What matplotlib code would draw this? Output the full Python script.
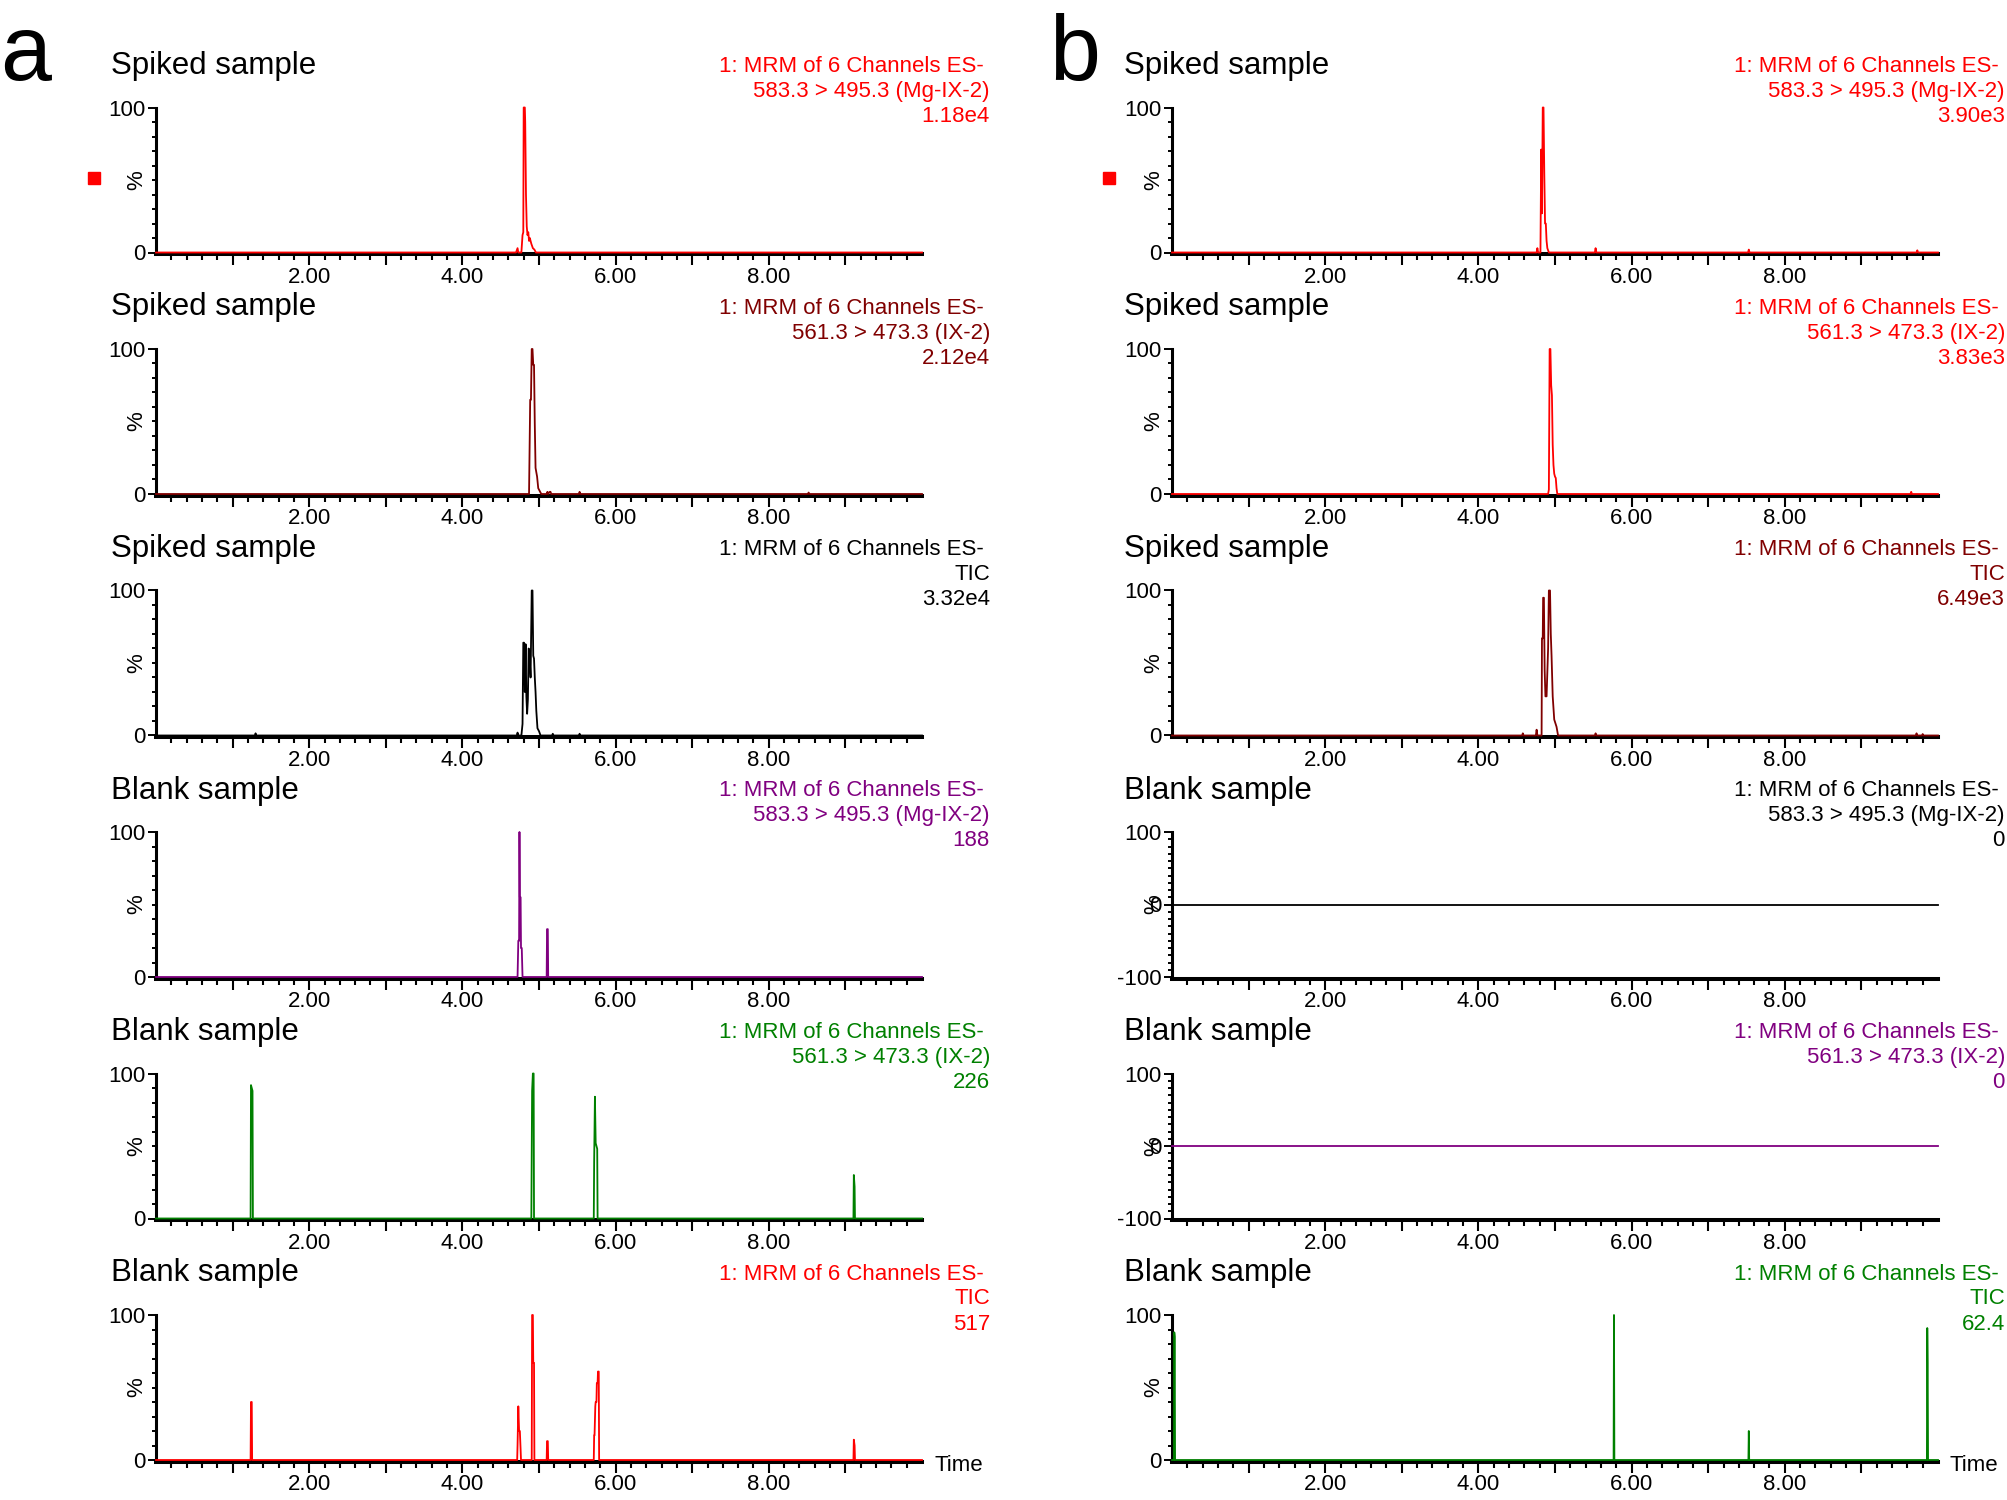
import numpy as np
import matplotlib
matplotlib.use("Agg")
import matplotlib.pyplot as plt
from matplotlib.patches import Rectangle
from matplotlib.ticker import MultipleLocator, FixedLocator

plt.rcParams['font.family'] = ['Liberation Sans', 'DejaVu Sans']
plt.rcParams['axes.unicode_minus'] = False

W, H = 2008, 1500

RED = '#ff0000'
MAROON = '#800000'
BLACK = '#000000'
PURPLE = '#800080'
GREEN = '#008000'

# ---- panel a traces: time (min), relative intensity (%) ----
a1_t = [0, 4.70, 4.72, 4.73, 4.77, 4.785, 4.795, 4.80, 4.815, 4.82, 4.83, 4.84, 4.85, 4.86, 4.87, 4.88, 4.90, 4.92, 4.94, 4.96, 10]
a1_y = [0, 0, 3, 0, 0, 12, 14, 100, 100, 90, 40, 18, 12, 14, 8, 10, 6, 3, 2, 0, 0]

a2_t = [0, 4.87, 4.885, 4.895, 4.905, 4.915, 4.925, 4.935, 4.945, 4.955, 4.965, 4.975, 4.99, 5.01, 5.03,
        5.10, 5.11, 5.12, 5.14, 5.15, 5.16, 5.52, 5.53, 5.54, 8.51, 8.52, 8.53, 10]
a2_y = [0, 0, 65, 65, 100, 100, 89, 89, 48, 18, 15, 12, 4, 2, 0,
        0, 1.5, 0, 1.5, 1.5, 0, 0, 1.5, 0, 0, 1, 0, 0]

a3_t = [0, 1.29, 1.30, 1.31, 4.71, 4.72, 4.73, 4.77, 4.785, 4.795, 4.805, 4.815, 4.825, 4.835, 4.845, 4.855,
        4.865, 4.875, 4.89, 4.905, 4.915, 4.925, 4.935, 4.945, 4.955, 4.965, 4.98, 5.0, 5.02,
        5.17, 5.18, 5.19, 5.52, 5.53, 5.54, 10]
a3_y = [0, 0, 1.5, 0, 0, 2, 0, 0, 8, 64, 64, 30, 63, 27, 15, 25,
        60, 58, 40, 100, 100, 55, 53, 40, 30, 17, 5, 3, 0,
        0, 1.2, 0, 0, 1.2, 0, 0]

a4_t = [0, 4.72, 4.73, 4.74, 4.745, 4.75, 4.76, 4.765, 4.775, 4.785, 5.10, 5.105, 5.115, 5.12, 10]
a4_y = [0, 0, 25, 25, 100, 55, 55, 20, 20, 0, 0, 33, 33, 0, 0]

a5_t = [0, 1.235, 1.24, 1.25, 1.26, 1.265, 4.90, 4.91, 4.92, 4.93, 4.935,
        5.715, 5.72, 5.73, 5.74, 5.75, 5.76, 5.765, 9.105, 9.11, 9.12, 9.125, 10]
a5_y = [0, 0, 92, 90, 88, 0, 0, 88, 100, 100, 0,
        0, 39, 84, 52, 50, 48, 0, 0, 30, 22, 0, 0]

a6_t = [0, 1.235, 1.24, 1.25, 1.255, 4.715, 4.72, 4.73, 4.74, 4.75, 4.76, 4.765,
        4.905, 4.91, 4.92, 4.925, 4.935, 4.94, 5.10, 5.105, 5.115, 5.12,
        5.715, 5.72, 5.725, 5.735, 5.74, 5.75, 5.755, 5.765, 5.77, 5.78, 5.785,
        9.105, 9.11, 9.12, 9.125, 10]
a6_y = [0, 0, 40, 40, 0, 0, 10, 37, 20, 20, 7, 0,
        0, 100, 100, 67, 67, 0, 0, 13, 13, 0,
        0, 17, 17, 37, 40, 40, 53, 53, 61, 61, 0,
        0, 14, 10, 0, 0]

# ---- panel b traces ----
b1_t = [0, 4.76, 4.77, 4.78, 4.81, 4.82, 4.83, 4.84, 4.85, 4.86, 4.87, 4.88, 4.89, 4.90, 4.92,
        5.52, 5.53, 5.54, 7.52, 7.53, 7.54, 9.72, 9.73, 9.74, 10]
b1_y = [0, 0, 3, 0, 0, 71, 27, 100, 100, 55, 20, 20, 8, 3, 0,
        0, 3, 0, 0, 2, 0, 0, 1.5, 0, 0]

b2_t = [0, 4.91, 4.92, 4.93, 4.94, 4.95, 4.96, 4.97, 4.98, 4.99, 5.00, 5.01, 5.02, 5.03, 9.64, 9.65, 9.66, 10]
b2_y = [0, 0, 3, 100, 100, 75, 68, 34, 20, 14, 12, 11, 4, 0, 0, 1.5, 0, 0]

b3_t = [0, 4.57, 4.58, 4.59, 4.75, 4.76, 4.77, 4.825, 4.83, 4.84, 4.845, 4.855, 4.865, 4.875, 4.89,
        4.91, 4.92, 4.935, 4.945, 4.955, 4.97, 4.99, 5.02, 5.04,
        5.52, 5.53, 5.54, 9.71, 9.72, 9.73, 9.79, 9.80, 9.81, 10]
b3_y = [0, 0, 1.5, 0, 0, 4, 0, 0, 67, 67, 95, 95, 45, 27, 27,
        60, 100, 100, 70, 55, 27, 11, 6, 0,
        0, 1.5, 0, 0, 1.5, 0, 0, 1, 0, 0]

b4_t = [0, 10]
b4_y = [0, 0]
b5_t = [0, 10]
b5_y = [0, 0]

b6_t = [0, 0.025, 0.03, 0.035, 0.04, 5.765, 5.77, 5.775, 7.525, 7.53, 7.535, 9.855, 9.86, 9.865, 9.87, 10]
b6_y = [0, 0, 88, 85, 0, 0, 100, 0, 0, 20, 0, 0, 91, 67, 0, 0]

# ---- text ----
titles = ["Spiked sample", "Spiked sample", "Spiked sample",
          "Blank sample", "Blank sample", "Blank sample"]
header = "1: MRM of 6 Channels ES-"
chan_a = ["583.3 > 495.3 (Mg-IX-2)", "561.3 > 473.3 (IX-2)", "TIC",
          "583.3 > 495.3 (Mg-IX-2)", "561.3 > 473.3 (IX-2)", "TIC"]
max_a = ["1.18e4", "2.12e4", "3.32e4", "188", "226", "517"]
chan_b = chan_a
max_b = ["3.90e3", "3.83e3", "6.49e3", "0", "0", "62.4"]
col_a = [RED, MAROON, BLACK, PURPLE, GREEN, RED]
col_b = [RED, RED, MAROON, BLACK, PURPLE, GREEN]
x_major = [1, 2, 3, 4, 5, 6, 7, 8, 9]
x_labels = ["", "2.00", "", "4.00", "", "6.00", "", "8.00", ""]

traces_a = [(a1_t, a1_y), (a2_t, a2_y), (a3_t, a3_y), (a4_t, a4_y), (a5_t, a5_y), (a6_t, a6_y)]
traces_b = [(b1_t, b1_y), (b2_t, b2_y), (b3_t, b3_y), (b4_t, b4_y), (b5_t, b5_y), (b6_t, b6_y)]

fig = plt.figure(figsize=(W / 100, H / 100), dpi=100)

ROW_TOP = 107.5
ROW_H = 145
ROW_STEP = 241.5
AX_W = 766


def panel(left_px, traces, colors, chans, maxes, right_px, title_px, square_px, time_px):
    for i in range(6):
        top = ROW_TOP + i * ROW_STEP
        ax = fig.add_axes([left_px / W, 1 - (top + ROW_H) / H, AX_W / W, ROW_H / H])
        t, y = traces[i]
        flat = max(y) == 0
        ax.plot(t, y, color=colors[i], lw=1.3, clip_on=False, zorder=3)
        ax.set_xlim(0, 10)
        if flat:
            ax.set_ylim(-100, 100)
            ax.set_yticks([-100, 0, 100])
            pct = 0
        else:
            ax.set_ylim(0, 100)
            ax.set_yticks([0, 100])
            pct = 50
        ax.yaxis.set_minor_locator(MultipleLocator(10))
        ax.set_xticks(x_major, labels=x_labels)
        ax.xaxis.set_minor_locator(FixedLocator(np.arange(0.2, 9.9, 0.2)))
        for s in ["top", "right"]:
            ax.spines[s].set_visible(False)
        ax.spines["left"].set_linewidth(2.2)
        ax.spines["bottom"].set_linewidth(2.9)
        ax.spines["bottom"].set_position(("outward", 1.2))
        ax.tick_params(axis="x", which="major", length=8, width=1.5, pad=1, labelsize=16)
        ax.tick_params(axis="x", which="minor", length=4.3, width=1.5)
        ax.tick_params(axis="y", which="major", length=5.8, width=1.4, pad=2, labelsize=16)
        ax.tick_params(axis="y", which="minor", length=2.9, width=1.4)
        ax.patch.set_visible(False)
        ax.annotate("%", xy=(0, pct), xycoords=ax.get_yaxis_transform(),
                    xytext=(-13.5, 0), textcoords="offset points",
                    ha="center", va="center", rotation=90, fontsize=16)

        fig.text(title_px / W, 1 - (74 + i * ROW_STEP) / H, titles[i], fontsize=22.5, va="baseline")
        fig.text((right_px - 6) / W, 1 - (72 + i * ROW_STEP) / H, header,
                 fontsize=16, color=colors[i], ha="right", va="baseline")
        fig.text(right_px / W, 1 - (97 + i * ROW_STEP) / H, chans[i],
                 fontsize=16, color=colors[i], ha="right", va="baseline")
        fig.text(right_px / W, 1 - (122 + i * ROW_STEP) / H, maxes[i],
                 fontsize=16, color=colors[i], ha="right", va="baseline")

    fig.add_artist(Rectangle((square_px / W, 1 - 184 / H), 12 / W, 12 / H,
                             transform=fig.transFigure, color=RED))
    fig.text(time_px / W, 1 - 1471 / H, "Time", fontsize=16, va="baseline")


panel(156, traces_a, col_a, chan_a, max_a, 990, 111, 88, 935)
panel(1172, traces_b, col_b, chan_b, max_b, 2005, 1124, 1103, 1950)

fig.text(0 / W, 1 - 80 / H, "a", fontsize=66, va="baseline")
fig.text(1049 / W, 1 - 80 / H, "b", fontsize=66, va="baseline")

fig.savefig("out.png", dpi=100)
